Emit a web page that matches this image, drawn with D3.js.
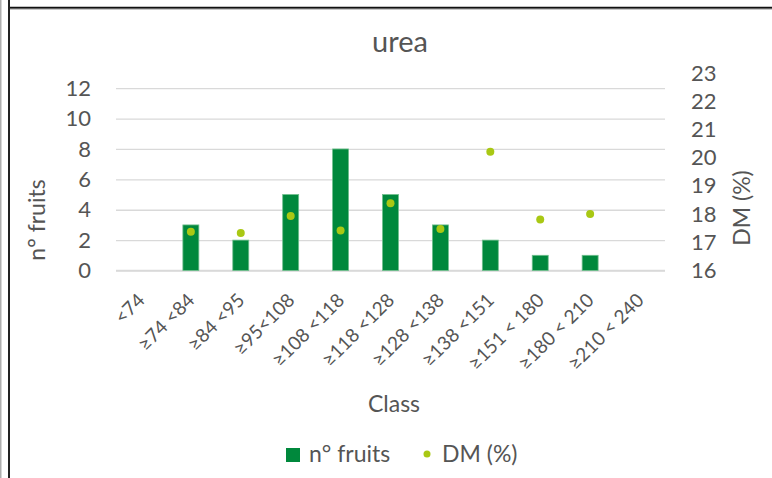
<!DOCTYPE html>
<html>
<head>
<meta charset="utf-8">
<script src="https://cdn.jsdelivr.net/npm/d3@7"></script>
<style>
  body { margin: 0; background: #fff; }
  svg { display: block; font-family: Lato, "Open Sans", sans-serif; }
</style>
</head>
<body>
<svg width="772" height="478"></svg>
<script>
var classes = ["<74", "≥74 <84", "≥84 <95", "≥95<108", "≥108 <118", "≥118 <128", "≥128 <138", "≥138 <151", "≥151 < 180", "≥180 < 210", "≥210 < 240"]
var fruits = [0, 3, 2, 5, 8, 5, 3, 2, 1, 1, 0]
var dm = [null, 17.37, 17.33, 17.93, 17.42, 18.38, 17.47, 20.21, 17.81, 18.0, null]
var leftTicks = [0, 2, 4, 6, 8, 10, 12]
var rightTicks = [16, 17, 18, 19, 20, 21, 22, 23]

var barColor = "#00883c",
    dotColor = "#a9c814",
    textColor = "#555555",
    plot = { left: 116, right: 665, top: 73, bottom: 270.5 }

var svg = d3.select("svg")

// frame lines
svg.append("line").attr("x1", 0.8).attr("x2", 0.8).attr("y1", 0).attr("y2", 478)
    .attr("stroke", "#9a9a9a").attr("stroke-width", 1.2)
svg.append("line").attr("x1", 9).attr("x2", 9).attr("y1", 0).attr("y2", 478)
    .attr("stroke", "#222").attr("stroke-width", 2)
svg.append("line").attr("x1", 10).attr("x2", 772).attr("y1", 7.7).attr("y2", 7.7)
    .attr("stroke", "#111").attr("stroke-width", 2)
svg.append("line").attr("x1", 10).attr("x2", 772).attr("y1", 9.3).attr("y2", 9.3)
    .attr("stroke", "#bbb").attr("stroke-width", 1)

var x = d3.scaleBand().domain(classes).range([plot.left, plot.right])
    .paddingInner(0.68).paddingOuter(0.34)
var yLeft = d3.scaleLinear().domain([0, 13]).range([plot.bottom, plot.top])
var yRight = d3.scaleLinear().domain([16, 23]).range([plot.bottom, plot.top])

// gridlines
svg.append("g").attr("class", "grid")
    .attr("transform", "translate(" + plot.left + ",0)")
    .call(d3.axisLeft(yLeft).tickValues(leftTicks).tickSize(-(plot.right - plot.left)).tickFormat(""))
    .call(function(g) {
        g.select(".domain").remove()
        g.selectAll("line").attr("stroke", "#d9d9d9").attr("stroke-width", 1.3)
    })

// left axis labels
svg.append("g")
    .attr("transform", "translate(" + (plot.left - 25) + ",0)")
    .call(d3.axisLeft(yLeft).tickValues(leftTicks).tickSize(0).tickPadding(0).tickFormat(d3.format("d")))
    .call(function(g) {
        g.select(".domain").remove()
        g.selectAll("text").attr("font-size", 22).attr("font-family", "Lato").attr("fill", textColor)
    })

// right axis labels
svg.append("g")
    .attr("transform", "translate(" + (plot.right + 26) + ",0)")
    .call(d3.axisRight(yRight).tickValues(rightTicks).tickSize(0).tickPadding(0).tickFormat(d3.format("d")))
    .call(function(g) {
        g.select(".domain").remove()
        g.selectAll("text").attr("font-size", 22).attr("font-family", "Lato").attr("fill", textColor)
    })

// bottom axis
svg.append("g")
    .attr("transform", "translate(0," + plot.bottom + ")")
    .call(d3.axisBottom(x).tickSize(0).tickPadding(0))
    .call(function(g) {
        g.select(".domain").remove()
        g.selectAll("text")
            .attr("font-size", 19)
            .attr("font-family", "Lato")
            .attr("fill", textColor)
            .attr("text-anchor", "end")
            .attr("dy", 0)
            .attr("y", 0)
            .attr("transform", "translate(5,31) rotate(-45)")
    })
svg.append("line").attr("x1", plot.left).attr("x2", plot.right)
    .attr("y1", plot.bottom).attr("y2", plot.bottom)
    .attr("stroke", "#d9d9d9").attr("stroke-width", 1.5)

// bars
svg.append("g").selectAll("rect")
    .data(fruits)
    .enter()
    .append("rect")
    .attr("x", function(d, i) { return x(classes[i]) })
    .attr("width", x.bandwidth())
    .attr("y", function(d) { return yLeft(d) })
    .attr("height", function(d) { return plot.bottom - yLeft(d) })
    .attr("fill", barColor)
    .attr("stroke", "#6fbf8d")
    .attr("stroke-width", function(d) { return d > 0 ? 0.8 : 0 })

// DM points
svg.append("g").selectAll("circle")
    .data(dm.map(function(v, i) { return { c: classes[i], v: v } }).filter(function(d) { return d.v != null }))
    .enter()
    .append("circle")
    .attr("cx", function(d) { return x(d.c) + x.bandwidth() / 2 })
    .attr("cy", function(d) { return yRight(d.v) })
    .attr("r", 4)
    .attr("fill", dotColor)

// titles
svg.append("text").attr("x", 400).attr("y", 52).attr("text-anchor", "middle")
    .attr("font-size", 29).attr("fill", textColor).text("urea")
svg.append("text").attr("transform", "translate(45,220) rotate(-90)").attr("text-anchor", "middle")
    .attr("font-size", 23).attr("fill", textColor).text("n° fruits")
svg.append("text").attr("transform", "translate(750,208) rotate(-90)").attr("text-anchor", "middle")
    .attr("font-size", 23).attr("fill", textColor).text("DM (%)")
svg.append("text").attr("x", 394).attr("y", 412).attr("text-anchor", "middle")
    .attr("font-size", 23).attr("fill", textColor).text("Class")

// legend
var legend = svg.append("g")
legend.append("rect").attr("x", 286).attr("y", 448).attr("width", 14).attr("height", 14).attr("fill", barColor)
legend.append("text").attr("x", 309).attr("y", 462).attr("font-size", 23).attr("fill", textColor).text("n° fruits")
legend.append("circle").attr("cx", 427).attr("cy", 454).attr("r", 3.5).attr("fill", dotColor)
legend.append("text").attr("x", 442).attr("y", 462).attr("font-size", 23).attr("fill", textColor).text("DM (%)")
</script>
</body>
</html>
